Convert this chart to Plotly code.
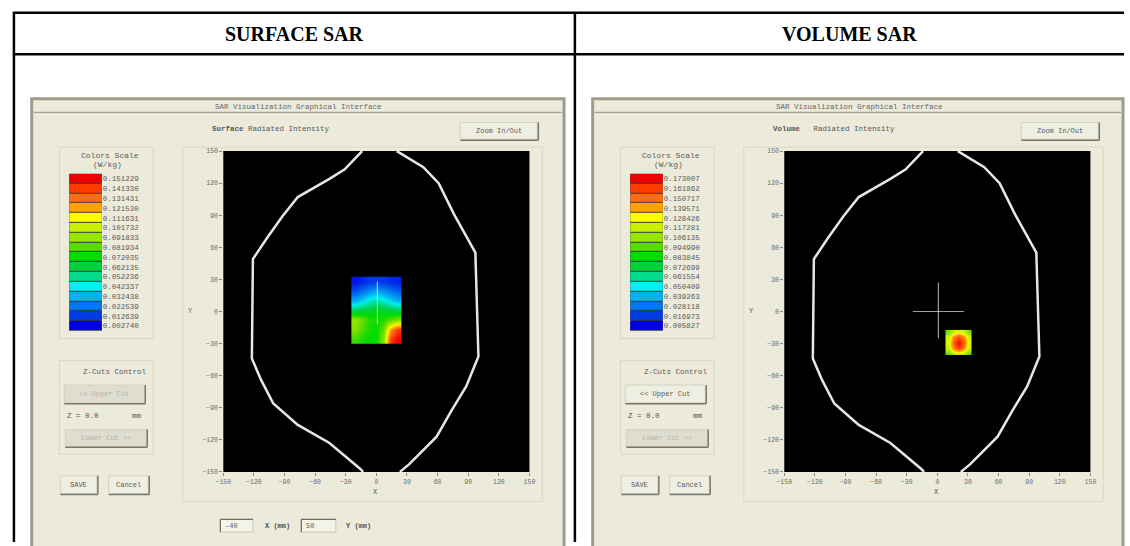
import plotly.graph_objects as go

W, H = 1130, 546

# ---- values ----
headers = ["SURFACE SAR", "VOLUME SAR"]
window_title = "SAR Visualization Graphical Interface"
subtitles = ["<b>Surface</b> Radiated Intensity", "<b>Volume</b>   Radiated Intensity"]

surface_levels = ["0.151229", "0.141330", "0.131431", "0.121530", "0.111631",
                  "0.101732", "0.091833", "0.081934", "0.072035", "0.062135",
                  "0.052236", "0.042337", "0.032438", "0.022539", "0.012639",
                  "0.002740"]
volume_levels = ["0.173007", "0.161862", "0.150717", "0.139571", "0.128426",
                 "0.117281", "0.106135", "0.094990", "0.083845", "0.072699",
                 "0.061554", "0.050409", "0.039263", "0.028118", "0.016973",
                 "0.005827"]
band_colors = ["#F00000", "#FF3C00", "#FF6E14", "#FFA000", "#FFFF00", "#C8F000",
               "#96E600", "#5ADC00", "#00DC00", "#00D23C", "#00DC8C", "#00F0F0",
               "#00B4F0", "#0078F0", "#003CE6", "#0000E6"]

axis_ticks = [-150, -120, -90, -60, -30, 0, 30, 60, 90, 120, 150]

# phantom outline in mm, left and right halves
outline_x = [-14, -31, -46, -77, -92, -107, -121, -122, -113, -101, -77, -46, -16, -13, None,
             20, 46, 61, 76, 97, 100, 88, 74, 59, 32, 23]
outline_y = [150, 133, 124, 107, 89, 69, 49, -44, -64, -86, -106, -123, -147, -150, None,
             150, 135, 120, 91, 55, -42, -70, -92, -117, -143, -150]

surface_x = [-21, -14, -7, 0, 7, 14, 21]
surface_y = [28, 19, 10, 1, -8, -17, -26]
surface_z = [
    [0.006, 0.009, 0.012, 0.013, 0.012, 0.010, 0.008],
    [0.016, 0.021, 0.026, 0.030, 0.026, 0.022, 0.018],
    [0.032, 0.038, 0.046, 0.050, 0.046, 0.038, 0.032],
    [0.060, 0.064, 0.066, 0.068, 0.066, 0.064, 0.062],
    [0.092, 0.084, 0.076, 0.074, 0.076, 0.082, 0.088],
    [0.088, 0.080, 0.074, 0.072, 0.084, 0.125, 0.142],
    [0.078, 0.074, 0.072, 0.072, 0.090, 0.142, 0.151],
]
surface_cross_x = [1, 1]
surface_cross_y = [28, -12]

volume_x = [10.5, 15.5, 20.5, 25.5, 30.5]
volume_y = [-19.5, -24, -29, -34, -38.5]
volume_z = [
    [0.100, 0.118, 0.125, 0.118, 0.100],
    [0.118, 0.145, 0.158, 0.145, 0.118],
    [0.122, 0.155, 0.173, 0.155, 0.122],
    [0.118, 0.148, 0.162, 0.148, 0.118],
    [0.100, 0.118, 0.125, 0.118, 0.100],
]
volume_cross_x = [-24, 26, None, 1, 1]
volume_cross_y = [0, 0, None, 27, -25]

slice_boxes = ["-40", "50"]


def px(x):
    return x / W


def py(y):
    return 1 - y / H


GUI_FONT = "Liberation Mono"
BEIGE = "#ECEBDB"
shapes = []
annotations = []


def rect(x0, y0, x1, y1, fill="rgba(0,0,0,0)", line="#000", width=1):
    shapes.append(dict(type="rect", xref="paper", yref="paper", x0=px(x0), x1=px(x1),
                       y0=py(y1), y1=py(y0), fillcolor=fill,
                       line=dict(color=line, width=width), layer="below"))


def hline(x0, x1, y, color, width=1):
    shapes.append(dict(type="line", xref="paper", yref="paper", x0=px(x0), x1=px(x1),
                       y0=py(y), y1=py(y), line=dict(color=color, width=width), layer="below"))


def vline(x, y0, y1, color, width=1):
    shapes.append(dict(type="line", xref="paper", yref="paper", x0=px(x), x1=px(x),
                       y0=py(y0), y1=py(y1), line=dict(color=color, width=width), layer="below"))


def text(x, y, s, size=7.5, color="#5A5A5A", anchor="center", family=GUI_FONT):
    annotations.append(dict(x=px(x), y=py(y), xref="paper", yref="paper", text=s,
                            showarrow=False, xanchor=anchor, yanchor="middle",
                            font=dict(family=family, size=size, color=color)))


def button(x0, y0, x1, y1, label, enabled=True):
    rect(x0, y0, x1, y1, fill="#EFEEE2" if enabled else "#DEDDD0", line="#D2D2C4")
    hline(x0, x1 + 1, y1 + 1, "#77776C", 1.5)
    vline(x1 + 1, y0, y1 + 1, "#77776C", 1.5)
    text((x0 + x1) / 2, (y0 + y1) / 2, label, size=7,
         color="#5A5A5A" if enabled else "#B4B4AA")


def textbox(x0, y0, x1, y1, value):
    rect(x0, y0, x1, y1, fill="#F4F3E8", line="#C8C8BA")
    hline(x0, x1, y0, "#6E6E64", 1.2)
    vline(x0, y0, y1, "#6E6E64", 1.2)
    text(x0 + 3, (y0 + y1) / 2, value, size=7, anchor="left")


def panel(sx, right_edge, subtitle, upper_enabled, bottom_boxes):
    rect(sx, 97, right_edge, 560, fill=BEIGE, line="#9C9C8A", width=3)
    hline(sx + 2, right_edge - 2, 111, "#A8A898", 1.5)
    hline(sx + 2, right_edge - 2, 113, "#F6F6EC", 1)
    text(sx + 270, 105, window_title, size=7.5, color="#666")
    text(sx + 181, 128, subtitle, size=7.5, color="#555", anchor="left")
    button(sx + 434, 121, sx + 512, 138, "Zoom In/Out")
    # colour scale group
    rect(sx + 28, 146, sx + 123, 340, line="#D6D6C6")
    text(sx + 79, 154, "Colors Scale", size=8)
    text(sx + 77, 164, "(W/kg)", size=8)
    # z-cuts group
    rect(sx + 28, 362, sx + 123, 457, line="#D6D6C6")
    text(sx + 84, 374, "Z-Cuts Control", size=7.5)
    button(sx + 33, 387, sx + 114, 405, "<< Upper Cut", upper_enabled)
    text(sx + 34, 418, "Z = 0.0", size=7.5, color="#505050", anchor="left")
    text(sx + 107, 418, "mm", size=7.5, color="#505050")
    button(sx + 34, 432, sx + 116, 449, "Lower Cut >>", False)
    button(sx + 29, 479, sx + 66, 497, "SAVE")
    button(sx + 78, 479, sx + 118, 497, "Cancel")
    # plot group
    rect(sx + 153, 146, sx + 517, 505, line="#D8D8C8")
    text(sx + 161, 312, "Y", size=7)
    text(sx + 348, 495, "X", size=7)
    if bottom_boxes:
        textbox(sx + 191, 523, sx + 224, 536, bottom_boxes[0])
        text(sx + 249, 530, "<b>X (mm)</b>", size=7, color="#505050")
        textbox(sx + 273, 523, sx + 308, 536, bottom_boxes[1])
        text(sx + 331, 530, "<b>Y (mm)</b>", size=7, color="#505050")


# ---- table frame ----
hline(5, 1130, 10, "black", 2.5)
hline(5, 1130, 52, "black", 2.5)
vline(6, 9, 546, "black", 2.5)
vline(574, 9, 546, "black", 2.5)
for hx, label in [(290, headers[0]), (852, headers[1])]:
    annotations.append(dict(x=px(hx), y=py(31), xref="paper", yref="paper",
                            text="<b>%s</b>" % label, showarrow=False,
                            xanchor="center", yanchor="middle",
                            font=dict(family="Liberation Serif", size=20, color="black")))

panel(24, 563, subtitles[0], False, slice_boxes)
panel(592, 1129, subtitles[1], True, None)

# dark backgrounds behind plot areas and colour bars
for ax, col in [("x", "black"), ("x2", "black"), ("x3", "#3A3A3A"), ("x4", "#3A3A3A")]:
    ay = ax.replace("x", "y")
    shapes.append(dict(type="rect", xref=ax + " domain", yref=ay + " domain",
                       x0=0, x1=1, y0=0, y1=1, fillcolor=col,
                       line=dict(width=0), layer="below"))

smooth_scale = [[i / 15, c] for i, c in enumerate(reversed(band_colors))]
band_scale = []
for i, c in enumerate(reversed(band_colors)):
    band_scale += [[i / 16, c], [(i + 1) / 16, c]]

fig = go.Figure()

# main plots
for k, (hx, hy, hz, cx, cy) in enumerate([
        (surface_x, surface_y, surface_z, surface_cross_x, surface_cross_y),
        (volume_x, volume_y, volume_z, volume_cross_x, volume_cross_y)]):
    ax = "" if k == 0 else "2"
    levels = surface_levels if k == 0 else volume_levels
    fig.add_trace(go.Heatmap(x=hx, y=hy, z=hz, colorscale=smooth_scale, zsmooth="best",
                             zmin=float(levels[-1]), zmax=float(levels[0]), showscale=False,
                             xaxis="x" + ax, yaxis="y" + ax, hoverinfo="skip"))
    fig.add_trace(go.Scatter(x=outline_x, y=outline_y, mode="lines",
                             line=dict(color="#E6E6E6", width=2.5),
                             xaxis="x" + ax, yaxis="y" + ax, hoverinfo="skip"))
    fig.add_trace(go.Scatter(x=cx, y=cy, mode="lines",
                             line=dict(color="rgba(215,215,215,0.75)", width=1.2),
                             xaxis="x" + ax, yaxis="y" + ax, hoverinfo="skip"))

# colour scale bars
for k, levels in enumerate([surface_levels, volume_levels]):
    ax = str(3 + k)
    fig.add_trace(go.Heatmap(x=[0], y=levels, z=[[15 - i] for i in range(len(levels))],
                             colorscale=band_scale, zmin=-0.5, zmax=15.5, ygap=1,
                             showscale=False, xaxis="x" + ax, yaxis="y" + ax,
                             hoverinfo="skip"))

tick_font = dict(family=GUI_FONT, size=6.5, color="#6A6A6A")
main_axis = dict(range=[-150, 150], tickvals=axis_ticks, ticks="outside", ticklen=3,
                 tickcolor="#888", tickfont=tick_font, showgrid=False, zeroline=False,
                 showline=False, fixedrange=True)
bar_x = dict(showticklabels=False, showgrid=False, zeroline=False, ticks="")
bar_y = dict(type="category", autorange="reversed", side="right", ticks="",
             showgrid=False, tickfont=dict(family=GUI_FONT, size=7.5, color="#5A5A5A"))

fig.update_layout(
    width=W, height=H,
    margin=dict(l=0, r=0, t=0, b=0),
    paper_bgcolor="white",
    plot_bgcolor="black",
    showlegend=False,
    xaxis=dict(main_axis, domain=[px(218), px(528)], anchor="y"),
    yaxis=dict(main_axis, domain=[py(475), py(150)], anchor="x"),
    xaxis2=dict(main_axis, domain=[px(786), px(1096)], anchor="y2"),
    yaxis2=dict(main_axis, domain=[py(475), py(150)], anchor="x2"),
    xaxis3=dict(bar_x, domain=[px(62), px(95)], anchor="y3"),
    yaxis3=dict(bar_y, domain=[py(332), py(173)], anchor="x3"),
    xaxis4=dict(bar_x, domain=[px(630), px(663)], anchor="y4"),
    yaxis4=dict(bar_y, domain=[py(332), py(173)], anchor="x4"),
    shapes=shapes,
    annotations=annotations,
)

fig.write_html("out.html", config={"displayModeBar": False},
               post_script="document.body.style.margin='0px';")
